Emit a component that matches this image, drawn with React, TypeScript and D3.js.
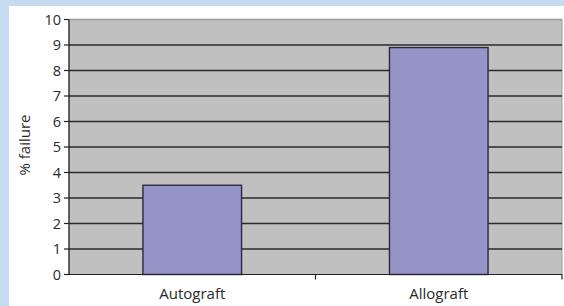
import React from 'react';
import * as d3 from 'd3';

// values
const categories = ['Autograft', 'Allograft'];
const failureValues = [3.5, 8.9];
const yTicks = [0, 1, 2, 3, 4, 5, 6, 7, 8, 9, 10];
const yLabel = '% failure';

export default function App() {
    const width = 564;
    const height = 306;
    const plot = {left: 69, top: 19.5, right: 562, bottom: 274.5};
    const font = '"Open Sans", "DejaVu Sans", sans-serif';

    const x = d3.scaleBand<string>()
        .domain(categories)
        .range([plot.left, plot.right]);
    const barW = x.bandwidth() * 0.4;
    const y = d3.scaleLinear().domain([0, 10]).range([plot.bottom, plot.top]);

    // category tick marks at the end of each band
    const catTicks = categories.map(c => x(c)! + x.bandwidth());

    return (
        <svg width={width} height={height} style={{position: 'absolute', left: 0, top: 0}}>
            <rect x={0} y={0} width={width} height={height} fill="#c6daf0" />
            <rect x={9} y={6} width={width - 9} height={height - 6} fill="#ffffff" />

            <rect x={plot.left} y={plot.top} width={plot.right - plot.left} height={plot.bottom - plot.top}
                  fill="#c0c0c0" stroke="#9a9a9a" strokeWidth={1} />

            {yTicks.filter(t => t > 0).map(t => (
                <line key={t} x1={plot.left} x2={plot.right} y1={y(t)} y2={y(t)}
                      stroke={t === 10 ? '#9a9a9a' : '#2a2a2a'} strokeWidth={1.4} />
            ))}

            {categories.map((c, i) => {
                const cx = x(c)! + x.bandwidth() / 2;
                return (
                    <rect key={c} x={cx - barW / 2} y={y(failureValues[i])} width={barW}
                          height={y(0) - y(failureValues[i])}
                          fill="#9594c8" stroke="#2a2a3a" strokeWidth={1.4} />
                );
            })}

            {/* axes */}
            <line x1={plot.left} x2={plot.left} y1={plot.top} y2={plot.bottom} stroke="#222" strokeWidth={1.2} />
            <line x1={plot.left} x2={plot.right} y1={plot.bottom} y2={plot.bottom} stroke="#222" strokeWidth={1.2} />

            {yTicks.map(t => (
                <g key={t}>
                    <line x1={plot.left - 5} x2={plot.left} y1={y(t)} y2={y(t)} stroke="#222" strokeWidth={1.2} />
                    <text x={61} y={y(t)} dy="0.36em" textAnchor="end" fontFamily={font} fontSize={14.5}
                          fill="#2a2a2a">{t}</text>
                </g>
            ))}

            {catTicks.map((tx, i) => (
                <line key={i} x1={tx} x2={tx} y1={plot.bottom} y2={plot.bottom + 5} stroke="#222" strokeWidth={1.2} />
            ))}

            {categories.map(c => (
                <text key={c} x={x(c)! + x.bandwidth() / 2} y={299} textAnchor="middle" fontFamily={font}
                      fontSize={15} fill="#2a2a2a">{c}</text>
            ))}

            <text transform={`translate(30,145) rotate(-90)`} textAnchor="middle" fontFamily={font}
                  fontSize={15} fill="#2a2a2a">{yLabel}</text>
        </svg>
    );
}
